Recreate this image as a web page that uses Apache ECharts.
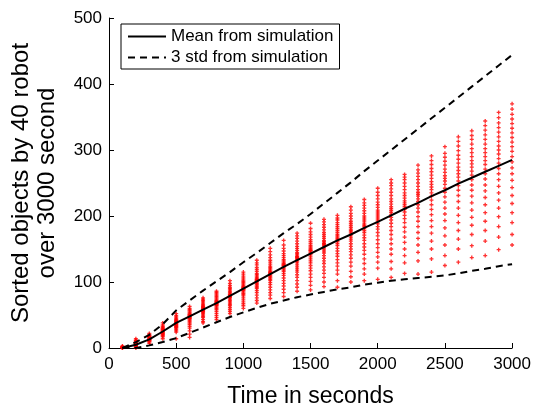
<!DOCTYPE html>
<html>
<head>
<meta charset="utf-8">
<script src="https://cdn.jsdelivr.net/npm/echarts@6/dist/echarts.min.js"></script>
<style>
  html, body { margin: 0; padding: 0; background: #fff; }
  #main { width: 534px; height: 413px; }
</style>
</head>
<body>
<div id="main"></div>
<script>
// time steps (s)
var times = [100,200,300,400,500,600,700,800,900,1000,1100,1200,1300,1400,1500,
             1600,1700,1800,1900,2000,2100,2200,2300,2400,2500,2600,2700,2800,2900,3000];

// mean and +/- 3 std curves, one value per time step
var meanVals  = [0,5,13,25,38,48,58,68,79,90,101,112,123,133,143,153,163,172,182,191,
                 201,211,220,230,239,249,258,267,276,285];
var upperVals = [0,9,20,36,57,72,87,101,115,130,144,159,174,188,203,219,235,251,268,284,
                 300,316,332,348,364,380,396,412,428,444];
var lowerVals = [0,0,4,9,15,23,31,39,47,54,61,67,72,77,81,85,89,92,96,99,
                 102,104,106,108,110,113,117,120,124,127];

// individual simulation runs, one list per time step
var runs = [
  [0,0,1,1,1,2,2,3],
  [0,1,2,3,4,4,5,5,6,6,7,8,9,10,11,12,14],
  [7,9,10,11,12,12,13,13,14,15,16,17,18,19,20,22],
  [14,17,19,20,21,22,23,24,25,26,27,28,29,30,31,33,35,38],
  [14,24,26,28,30,31,32,33,34,35,36,37,38,39,40,41,42,43,45,47,49,52],
  [16,21,26,30,33,36,38,40,42,44,45,46,47,48,49,50,51,52,54,56,58,60,63],
  [38,40,43,46,48,50,52,54,55,56,57,58,59,60,61,62,63,64,66,68,70,72,74,76],
  [43,46,49,52,55,58,60,62,64,65,66,67,68,69,70,71,72,74,76,78,80,82,84,86],
  [52,55,58,61,64,66,68,70,72,74,76,77,78,79,80,81,82,84,86,88,90,92,95,98,102],
  [60,64,67,70,73,76,79,81,83,85,87,88,89,90,91,92,93,95,97,99,101,103,106,109,112,115],
  [68,72,76,80,84,87,90,92,94,96,98,100,101,102,103,104,105,107,109,111,113,116,119,122,126,129,133],
  [75,80,84,88,92,96,99,102,104,106,108,110,112,113,114,115,116,118,120,122,124,127,130,133,137,141,146,151],
  [78,84,89,94,98,102,106,110,113,116,118,120,122,124,125,126,127,128,130,132,134,137,140,143,147,151,156,163],
  [86,92,97,102,107,111,115,118,121,124,127,130,132,134,136,137,138,139,141,143,145,148,151,154,158,162,166,170,174],
  [88,95,101,107,112,117,121,125,129,132,135,138,141,143,145,147,148,149,151,153,155,158,161,164,168,172,176,181,189],
  [93,100,107,113,118,123,128,132,136,140,144,147,150,153,155,157,158,159,161,163,166,169,172,175,179,183,187,191,195],
  [92,102,112,118,124,129,134,139,143,147,151,155,158,161,164,166,168,170,172,175,178,181,184,187,190,194,197,201],
  [100,108,116,124,130,136,141,146,150,154,158,162,165,168,171,174,176,178,180,183,186,189,192,196,200,204,209,214],
  [102,112,120,128,135,142,148,153,158,163,167,171,175,178,181,184,186,188,191,194,197,200,204,208,212,216,220,225],
  [104,121,130,138,145,152,158,164,170,175,180,184,188,191,194,197,200,203,206,209,213,217,221,226,231,236,242],
  [107,120,131,142,150,158,165,172,178,184,189,194,198,202,205,208,211,214,218,222,226,231,236,241,246,250,255],
  [113,129,140,150,160,168,176,183,190,196,201,206,210,214,217,220,223,227,231,235,240,245,250,255,259,263],
  [112,132,145,156,166,175,184,192,199,206,212,217,222,226,230,233,236,240,245,250,255,260,265,270,277],
  [115,135,150,162,174,184,193,202,210,217,224,230,235,240,244,248,252,257,262,267,272,278,284,291],
  [125,140,156,170,182,193,203,212,221,229,236,242,248,253,257,261,266,271,277,283,289,295,305],
  [130,150,165,178,190,201,212,222,231,239,246,253,259,264,269,274,280,286,292,299,306,313,320],
  [137,155,172,186,198,209,220,230,239,247,255,262,268,274,279,284,290,296,302,309,316,322,329],
  [140,162,178,192,205,217,228,238,247,256,264,271,278,284,290,296,302,309,316,323,330,337,344],
  [149,168,184,199,212,224,235,245,255,264,272,280,287,294,300,306,313,320,327,334,341,349,357],
  [156,172,190,205,219,231,243,254,264,273,282,290,298,305,312,319,326,333,340,347,354,362,370]
];

var chart = echarts.init(document.getElementById('main'));

var scatterData = [];
runs.forEach(function (list, i) {
  list.forEach(function (v) { scatterData.push([times[i], v]); });
});
function pairs(vals) {
  return times.map(function (t, i) { return [t, vals[i]]; });
}

var font = 'Liberation Sans, Arial, sans-serif';
var dashed = { color: '#000', width: 2, type: [7, 5] };

var option = {
  animation: false,
  backgroundColor: '#fff',
  textStyle: { fontFamily: font },
  grid: { left: 107, right: 20, top: 18, bottom: 65 },
  legend: {
    orient: 'vertical',
    left: 121, top: 24,
    data: ['Mean from simulation', '3 std from simulation'],
    itemWidth: 38, itemHeight: 10, itemGap: 4,
    padding: [4, 6, 3, 6],
    borderColor: '#000', borderWidth: 1,
    backgroundColor: '#fff',
    itemStyle: { opacity: 0 },
    textStyle: { fontSize: 17, color: '#000', fontFamily: font }
  },
  xAxis: {
    type: 'value', min: 0, max: 3000, interval: 500,
    name: 'Time in seconds', nameLocation: 'middle', nameGap: 37,
    nameTextStyle: { fontSize: 23, color: '#000', fontFamily: font },
    axisLine: { lineStyle: { color: '#000', width: 1 } },
    axisTick: { inside: true, length: 5, lineStyle: { color: '#000' } },
    axisLabel: {
      fontSize: 17, color: '#000', margin: 8, fontFamily: font,
      formatter: function (v) { return String(v); }
    },
    splitLine: { show: false }
  },
  yAxis: {
    type: 'value', min: 0, max: 500, interval: 100,
    name: 'Sorted objects by 40 robot\nover 3000 second',
    nameLocation: 'middle', nameGap: 49, nameRotate: 90,
    nameTextStyle: { fontSize: 24, color: '#000', lineHeight: 26, fontFamily: font },
    axisLine: { show: true, lineStyle: { color: '#000', width: 1 } },
    axisTick: { show: true, inside: true, length: 5, lineStyle: { color: '#000' } },
    axisLabel: { fontSize: 17, color: '#000', margin: 7, fontFamily: font },
    splitLine: { show: false }
  },
  series: [
    {
      name: 'runs', type: 'scatter',
      symbol: 'path://M1,0H2V1H3V2H2V3H1V2H0V1H1Z',
      symbolSize: 4,
      itemStyle: { color: '#ff0000' },
      data: scatterData, z: 1
    },
    {
      name: '3 std from simulation', type: 'line', symbol: 'none',
      lineStyle: dashed, itemStyle: { color: '#000' },
      data: pairs(upperVals), z: 2
    },
    {
      name: '3 std from simulation', type: 'line', symbol: 'none',
      lineStyle: dashed, itemStyle: { color: '#000' },
      data: pairs(lowerVals), z: 2
    },
    {
      name: 'Mean from simulation', type: 'line', symbol: 'none',
      lineStyle: { color: '#000', width: 2 }, itemStyle: { color: '#000' },
      data: pairs(meanVals), z: 3
    }
  ]
};
chart.setOption(option);
</script>
</body>
</html>
